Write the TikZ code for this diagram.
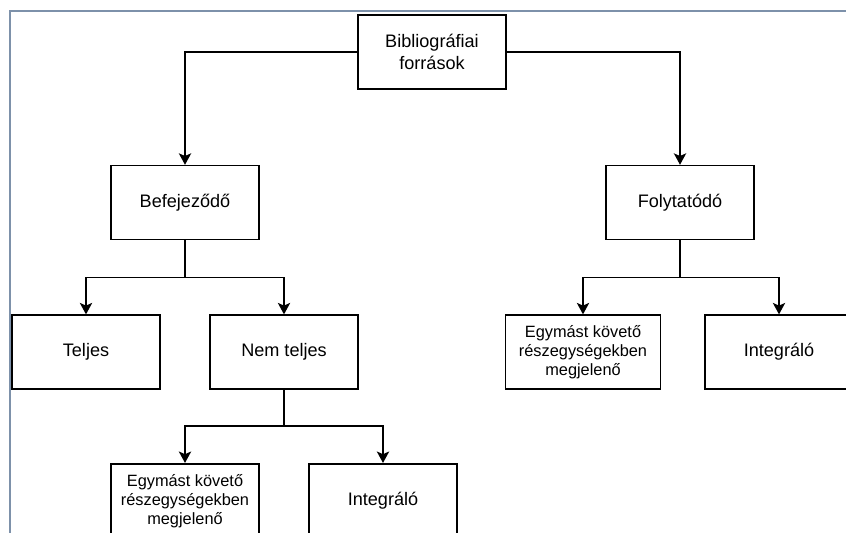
\documentclass[tikz,border=0pt]{standalone}
\usepackage{fontspec}
\setmainfont{Liberation Sans}
\usepackage{tikz}
\usetikzlibrary{positioning,calc,arrows.meta}
\definecolor{framegray}{RGB}{125,145,170}
\tikzset{
  rectnode/.style args={#1,#2}{
  draw=black,
  line width=0.9pt,
  align=center,
  minimum width=#1 cm,
  minimum height=#2 cm,
  },
  smalltext/.style={font=\fontsize{9.3}{10.8}\selectfont}
}

\begin{document}
\begin{tikzpicture}[->,>={Stealth[length=6.5pt,width=7pt,inset=1.5pt]},line width=0.9pt,
  every node/.style={font=\fontsize{10.3}{13}\selectfont}]

  \useasboundingbox (0,0) rectangle (16.92,-10.66);
  \draw[-,framegray,line width=1pt] (0.2,-10.66) -- (0.2,-0.22) -- (16.92,-0.22);

  \node [rectnode={2.96,1.48}] (bib) at (8.64,-1.04) {Bibliográfiai\\források};
  \node [rectnode={2.96,1.48},below=1.5cm of bib,xshift=-4.94cm] (bef) {Befejeződő};
  \node [rectnode={2.96,1.48},below=1.5cm of bib,xshift=4.96cm] (foly) {Folytatódó};
  \node [rectnode={2.96,1.48},below=1.48cm of bef,xshift=-1.98cm] (tel) {Teljes};
  \node [rectnode={2.96,1.48},below=1.48cm of bef,xshift=1.98cm] (nemt) {Nem teljes};
  \node [rectnode={2.96,1.48},below=1.46cm of nemt,xshift=-1.98cm,smalltext] (egy1) {Egymást követő\\részegységekben\\megjelenő};
  \node [rectnode={2.96,1.48},below=1.46cm of nemt,xshift=1.98cm] (int1) {Integráló};
  \node [rectnode={3.1,1.48},below=1.48cm of foly,xshift=-1.94cm,smalltext] (egy2) {Egymást követő\\részegységekben\\megjelenő};
  \node [rectnode={2.96,1.48},below=1.48cm of foly,xshift=1.98cm] (int2) {Integráló};

  \coordinate [below=0.74cm of bef.south] (befj);
  \coordinate [below=0.74cm of foly.south] (folyj);
  \coordinate [below=0.72cm of nemt.south] (nemtj);

  \draw (bib.west) -| (bef);
  \draw (bib.east) -| (foly);
  \draw[-] (bef) -- (befj);
  \draw (befj) -| (tel);
  \draw (befj) -| (nemt);
  \draw[-] (foly) -- (folyj);
  \draw (folyj) -| (egy2);
  \draw (folyj) -| (int2);
  \draw[-] (nemt) -- (nemtj);
  \draw (nemtj) -| (egy1);
  \draw (nemtj) -| (int1);
\end{tikzpicture}
\end{document}
